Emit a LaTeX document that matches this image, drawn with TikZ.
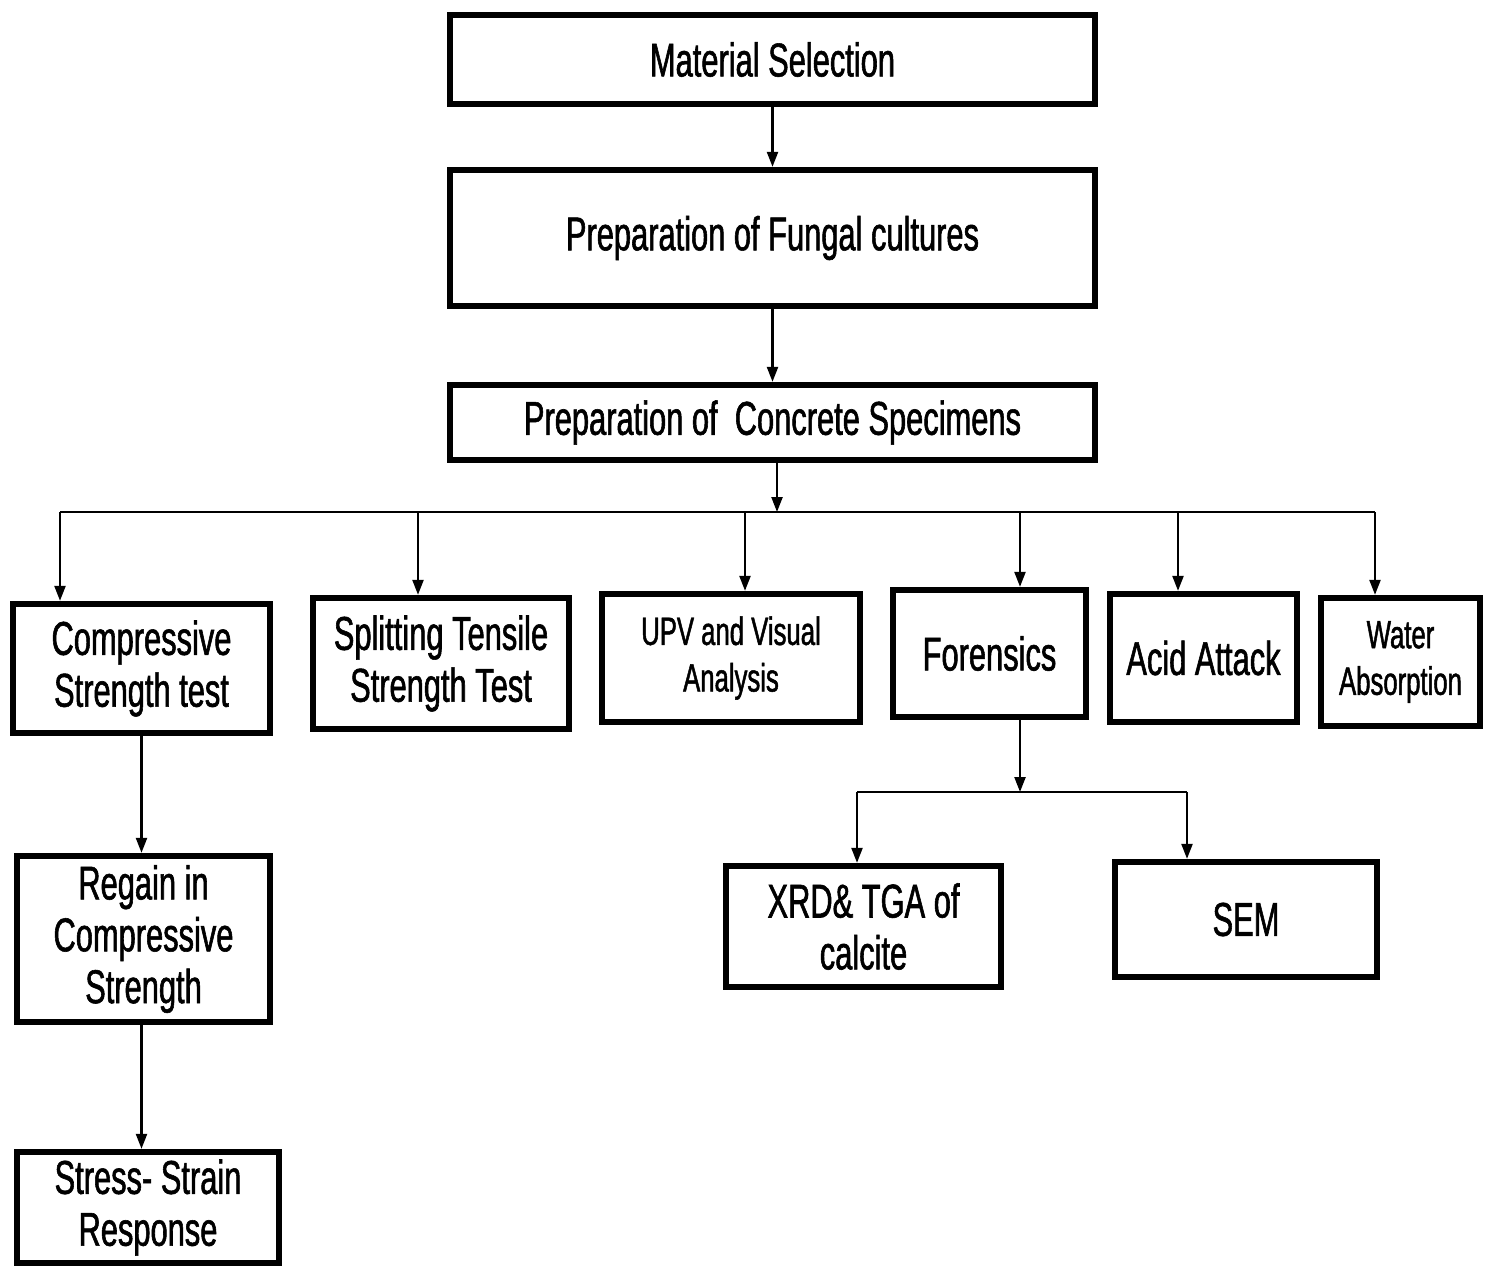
\documentclass[tikz,border=0pt]{standalone}
\usepackage{fontspec}
\setmainfont{Liberation Sans}[FakeStretch=0.65,FakeBold=1.2]
\usetikzlibrary{calc,positioning}
\usetikzlibrary{arrows.meta}
\tikzset{>={Triangle[width=2.2mm,length=3mm]}}
\tikzset{block/.style = {draw, fill=white, rectangle, line width=3.6pt,
                  align=center, inner sep=2pt,
                  font=\fontsize{27}{29.5}\selectfont},
        small/.style = {font=\fontsize{22.5}{26.5}\selectfont},
        link/.style = {line width=1.3pt}
    }

\begin{document}
\begin{tikzpicture}
          \useasboundingbox (0,0) rectangle (29.82,-25.38);

          % main column
          \node[block, minimum width=12.9cm, minimum height=1.78cm] (mat) at (15.45,-1.19) {Material Selection};
          \node[block, minimum width=12.9cm, minimum height=2.72cm] (fung) at (15.45,-4.76) {Preparation of Fungal cultures};
          \node[block, minimum width=12.9cm, minimum height=1.5cm] (conc) at (15.45,-8.45) {Preparation of\ \ Concrete Specimens};

          % tests
          \node[block, minimum width=5.14cm, minimum height=2.58cm] (comp) at (2.83,-13.37) {Compressive\\Strength test};
          \node[block, minimum width=5.12cm, minimum height=2.62cm] (split) at (8.82,-13.27) {Splitting Tensile\\Strength Test};
          \node[block, small, minimum width=5.16cm, minimum height=2.56cm] (upv) at (14.62,-13.16) {UPV and Visual\\Analysis};
          \node[block, minimum width=3.86cm, minimum height=2.54cm] (foren) at (19.79,-13.07) {Forensics};
          \node[block, minimum width=3.74cm, minimum height=2.56cm] (acid) at (24.07,-13.16) {Acid Attack};
          \node[block, small, minimum width=3.18cm, minimum height=2.56cm] (water) at (28.01,-13.24) {Water\\Absorption};

          \node[block, minimum width=5.06cm, minimum height=3.32cm] (regain) at (2.87,-18.78) {Regain in\\Compressive\\Strength};
          \node[block, minimum width=5.24cm, minimum height=2.22cm] (stress) at (2.96,-24.15) {Stress- Strain\\Response};

          \node[block, minimum width=5.5cm, minimum height=2.42cm] (xrd) at (17.27,-18.53) {XRD\& TGA of\\calcite};
          \node[block, minimum width=5.24cm, minimum height=2.3cm] (sem) at (24.92,-18.39) {SEM};

          \draw[link, ->] (mat) -- (fung);
          \draw[link, ->] (fung) -- (conc);

          \coordinate (hub) at (15.54,-10.24);
          \draw[link, ->] (conc.south -| hub) -- (hub);
          \foreach \n/\x in {comp/1.2, split/8.36, upv/14.9, foren/20.4, acid/23.56, water/27.5} {
            \coordinate (t\n) at (\x,-10.24);
            \draw[link, ->] (t\n) -- (t\n |- \n.north);
          }
          \draw[link] (tcomp) -- (twater);

          \draw[link, ->] (comp.south) -- (comp.south |- regain.north);
          \draw[link, ->] (regain.south -| comp.south) -- (comp.south |- stress.north);

          \coordinate (fsplit) at (20.4,-15.84);
          \coordinate (fl) at (17.14,-15.84);
          \coordinate (fr) at (23.74,-15.84);
          \draw[link, ->] (foren.south -| fsplit) -- (fsplit);
          \draw[link] (fl) -- (fr);
          \draw[link, ->] (fl) -- (fl |- xrd.north);
          \draw[link, ->] (fr) -- (fr |- sem.north);
        \end{tikzpicture}
\end{document}
